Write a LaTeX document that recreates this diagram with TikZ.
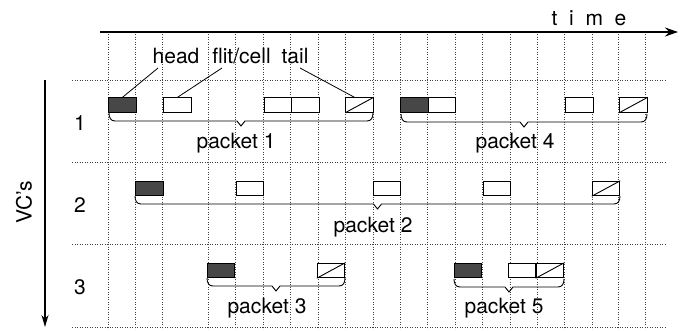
\documentclass[tikz,border=0pt]{standalone}
\usepackage{fontspec}
\setmainfont{TeX Gyre Heros}
\usetikzlibrary{arrows.meta,calc}
\newcommand\pktbrace[3]{%
  \draw[bracesty] (#1,#3) .. controls (#1,{#3+5}) and ({#1+2},{#3+8}) .. ({#1+6},{#3+8})
    -- ({(#1+#2)/2-4},{#3+8}) -- ({(#1+#2)/2},{#3+13}) -- ({(#1+#2)/2+4},{#3+8})
    -- ({#2-6},{#3+8}) .. controls ({#2-2},{#3+8}) and (#2,{#3+5}) .. (#2,#3);}
\begin{document}
\begin{tikzpicture}[x=1pt,y=-1pt,
  grid/.style={dotted, line width=0.5pt, black!75},
  flit/.style={draw, line width=0.9pt, fill=white, minimum width=27.5pt, minimum height=14.5pt, inner sep=0pt},
  headflit/.style={flit, fill=black!72},
  lbl/.style={font=\fontsize{21}{25}\selectfont, inner sep=0pt, anchor=base},
  ptr/.style={line width=0.8pt},
  bracesty/.style={line width=0.9pt},
  diag/.style={line width=0.9pt}]
\useasboundingbox (0,0) rectangle (681,330);

% grid
\foreach \x in {108,135,162,208,235,263,290,318,345,373,400,427,455,482,510,537,564,592,618,645}
  \draw[grid] (\x,34) -- (\x,329);
\foreach \y in {80,162,244,327}
  \draw[grid] (72,\y) -- (665,\y);

% time axis
\coordinate (t0) at (100,32);
\coordinate (t1) at (678,32);
\draw[line width=2pt,-{Stealth[length=13pt,width=9pt]}] (t0) -- (t1);
\node[lbl] (time) at (589,25) {t\ \ i\ \ m\ \ e};

% VC axis
\coordinate (v0) at (45,80);
\coordinate (v1) at (45,327);
\draw[line width=1.2pt,-{Stealth[length=12pt,width=7pt]}] (v0) -- (v1);
\node[lbl, rotate=90, anchor=center] (vcs) at (24,202) {VC's};

\node[lbl] (r1) at (80,130) {1};
\node[lbl] (r2) at (80,212) {2};
\node[lbl] (r3) at (80,294) {3};

% row 1
\node[headflit] (p1h) at (122.5,105) {};
\node[flit] (p1a) at (177.5,105) {};
\node[flit] (p1b) at (278,105) {};
\node[flit] (p1c) at (305.5,105) {};
\node[flit] (p1t) at (359.5,105) {};
\node[headflit] (p4h) at (414.5,105) {};
\node[flit] (p4a) at (442,105) {};
\node[flit] (p4b) at (579.5,105) {};
\node[flit] (p4t) at (633.5,105) {};
% row 2
\node[headflit] (p2h) at (149.5,188.5) {};
\node[flit] (p2a) at (250,188.5) {};
\node[flit] (p2b) at (387,188.5) {};
\node[flit] (p2c) at (497,188.5) {};
\node[flit] (p2t) at (606,188.5) {};
% row 3
\node[headflit] (p3h) at (221,270.5) {};
\node[flit] (p3t) at (331,270.5) {};
\node[headflit] (p5h) at (468,270.5) {};
\node[flit] (p5a) at (522,270.5) {};
\node[flit] (p5t) at (550,270.5) {};

\foreach \n in {p1t,p4t,p2t,p3t,p5t}
  \draw[diag] (\n.south west) -- (\n.north east);

% labels
\node[lbl] (lhead) at (176,63) {head};
\node[lbl] (lflit) at (241.5,63) {flit/cell};
\node[lbl] (ltail) at (295,63) {tail};
\coordinate (ah) at (158,68);
\coordinate (af) at (222,68);
\coordinate (at) at (300,68);
\draw[ptr] (ah) -- (p1h.north);
\draw[ptr] (af) -- (p1a.north);
\draw[ptr] (at) -- ([xshift=-5pt]p1t.north);

% braces
\pktbrace{109}{373}{113}
\pktbrace{401}{647}{114}
\pktbrace{135}{620}{196}
\pktbrace{207}{345}{278}
\pktbrace{454}{564}{279}

\node[lbl] (k1) at (236,148) {packet 1};
\node[lbl] (k4) at (515,148) {packet 4};
\node[lbl] (k2) at (373,232) {packet 2};
\node[lbl] (k3) at (267,313) {packet 3};
\node[lbl] (k5) at (504,313) {packet 5};
\end{tikzpicture}
\end{document}
